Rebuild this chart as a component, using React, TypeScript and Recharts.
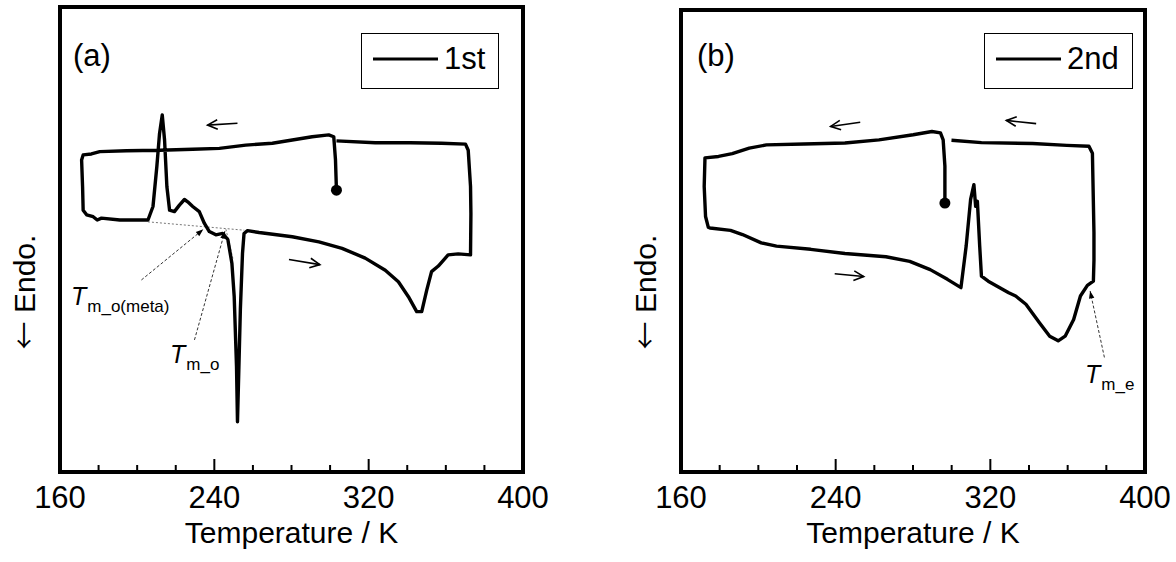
import React from "react";
import {
  LineChart,
  Line,
  XAxis,
  YAxis,
  ReferenceArea,
  ReferenceLine,
  ReferenceDot,
  Legend,
} from "recharts";

const FONT = '"Liberation Sans", Arial, Helvetica, sans-serif';

// (a) 1st run: temperature (K) and DSC signal (arb. units), in scan order
const tempFirst = [
  303.3, 302.8, 301.9, 299.3, 290.7, 280.4, 270.1, 256.3, 242.6, 228.8, 211.6, 194.4, 180.6,
  176.3, 172.0, 171.2, 171.7, 172.0, 173.8, 177.2, 179.3, 181.5, 191.0, 205.6, 208.2, 210.2,
  211.6, 213.0, 214.2, 215.4, 216.8, 219.3, 221.9, 224.5, 226.2, 228.8, 232.2, 234.8, 237.4,
  240.8, 244.3, 247.0, 249.1, 250.3, 251.5, 252.0, 252.7, 253.5, 254.6, 255.4, 257.2, 263.2,
  280.4, 294.2, 306.2, 318.2, 328.6, 335.4, 340.6, 344.9, 347.5, 350.1, 352.6, 356.1, 361.2,
  366.4, 372.8, 373.0, 372.8, 371.6, 370.2, 357.8, 341.5, 323.4, 303.3,
];
const heatFirst = [
  60.6, 67.1, 72.1, 72.5, 72.1, 71.4, 70.7, 70.3, 69.6, 69.4, 69.2, 69.1, 68.9,
  68.4, 68.2, 67.1, 61.4, 56.3, 55.3, 54.9, 54.2, 54.6, 54.2, 54.2, 57.1, 65.7,
  72.8, 76.8, 71.4, 61.4, 56.3, 56.0, 57.4, 58.6, 58.1, 57.1, 56.0, 53.5, 51.7,
  51.0, 51.3, 50.0, 44.9, 37.7, 22.6, 10.8, 22.0, 35.0, 47.0, 51.3, 51.9, 51.5,
  50.6, 49.5, 48.1, 46.0, 43.4, 40.9, 37.7, 34.5, 34.5, 39.1, 43.1, 44.3, 46.7,
  46.9, 46.7, 55.6, 61.4, 69.2, 70.5, 70.7, 70.8, 70.8, 71.2,
];

// (b) 2nd run
const tempSecond = [
  296.5, 296.5, 295.6, 294.2, 289.8, 280.1, 262.4, 244.8, 223.6, 204.2, 195.3, 186.5, 179.4,
  172.4, 172.0, 172.7, 174.1, 175.0, 185.6, 191.8, 201.5, 209.4, 227.1, 244.8, 266.0, 278.3,
  288.9, 297.8, 304.8, 307.5, 309.8, 311.5, 312.4, 313.3, 314.5, 315.4, 318.9, 329.5, 333.1,
  338.4, 345.4, 350.7, 355.1, 358.7, 363.1, 366.6, 370.2, 373.3, 373.6, 373.6, 372.8, 371.0,
  359.6, 341.9, 315.4, 299.9,
];
const heatSecond = [
  58.2, 66.2, 71.9, 73.4, 73.7, 73.0, 71.9, 71.2, 71.0, 70.8, 70.1, 68.9, 68.3,
  68.0, 61.8, 55.3, 53.0, 52.8, 52.3, 51.4, 49.6, 48.9, 48.2, 47.3, 46.6, 45.6,
  43.8, 41.7, 39.9, 48.9, 59.0, 62.2, 57.5, 58.6, 48.9, 42.4, 41.3, 38.8, 38.1,
  36.3, 32.3, 29.4, 28.4, 29.4, 33.0, 38.1, 40.4, 41.3, 45.8, 51.8, 69.0, 70.5,
  70.7, 71.1, 71.3, 71.8,
];

const tempTicks = [160, 180, 200, 220, 240, 260, 280, 300, 320, 340, 360, 380, 400];
const labelledTemps = [160, 240, 320, 400];

// scan direction arrows, [from, to] as [T, signal]
const scanArrowsFirst = [
  [[252.0, 75.0], [236.5, 74.6]],
  [[278.7, 45.7], [294.7, 44.6]],
];
const scanArrowsSecond = [
  [[252.7, 75.7], [237.4, 74.8]],
  [[343.7, 75.4], [328.3, 76.1]],
  [[239.5, 42.9], [254.5, 42.3]],
];
// onset pointers and construction lines
const pointersFirst = [
  [[202.2, 41.3], [234.3, 52.2]],
  [[229.7, 28.4], [245.5, 51.8]],
];
const pointersSecond = [[[379.0, 24.8], [371.6, 39.2]]];
const guidesFirst = [
  [[205.6, 53.8], [255.5, 52.0]],
  [[246.0, 52.2], [249.8, 45.6]],
];

const toRows = (t: number[], v: number[]) => t.map((T, i) => ({ T, v: v[i] }));

function BottomTick(props: any) {
  const { x, y, payload } = props;
  const major = labelledTemps.includes(payload.value);
  return (
    <g>
      <line x1={x} x2={x} y1={y} y2={y - (major ? 13 : 7)} stroke="#000" strokeWidth={2} />
      {major && (
        <text x={x} y={y + 36} textAnchor="middle" fontSize={31} fontFamily={FONT} fill="#000">
          {payload.value}
        </text>
      )}
    </g>
  );
}

function TopTick(props: any) {
  const { x, y, payload } = props;
  const major = labelledTemps.includes(payload.value);
  return <line x1={x} x2={x} y1={y} y2={y + (major ? 13 : 8)} stroke="#000" strokeWidth={2} />;
}

function headPoints(x1: number, y1: number, x2: number, y2: number, len: number, spread: number) {
  const a = Math.atan2(y2 - y1, x2 - x1);
  const l = [x2 - len * Math.cos(a - spread), y2 - len * Math.sin(a - spread)];
  const r = [x2 - len * Math.cos(a + spread), y2 - len * Math.sin(a + spread)];
  return { l, r };
}

const openArrow = (p: any) => {
  const { x1, y1, x2, y2 } = p;
  const { l, r } = headPoints(x1, y1, x2, y2, 11, 0.45);
  return (
    <g stroke="#000" strokeWidth={1.6} fill="none">
      <line x1={x1} y1={y1} x2={x2} y2={y2} />
      <polyline points={`${l[0]},${l[1]} ${x2},${y2} ${r[0]},${r[1]}`} />
    </g>
  );
};

const pointerArrow = (p: any) => {
  const { x1, y1, x2, y2 } = p;
  const { l, r } = headPoints(x1, y1, x2, y2, 8, 0.35);
  return (
    <g>
      <line x1={x1} y1={y1} x2={x2} y2={y2} stroke="#333" strokeWidth={1} strokeDasharray="3 2" />
      <polygon points={`${l[0]},${l[1]} ${x2},${y2} ${r[0]},${r[1]}`} fill="#000" />
    </g>
  );
};

function LegendBox(props: any) {
  const item = props.payload && props.payload[0];
  return (
    <div
      style={{
        width: props.boxWidth,
        height: 56,
        border: "1.5px solid #000",
        boxSizing: "border-box",
        background: "#fff",
        position: "relative",
        fontFamily: FONT,
      }}
    >
      <svg width={80} height={56} style={{ position: "absolute", left: 0, top: 0 }}>
        <line x1={11} x2={76} y1={25} y2={25} stroke="#000" strokeWidth={3} />
      </svg>
      <span style={{ position: "absolute", left: 82, top: 8, fontSize: 31, lineHeight: "34px", color: "#000" }}>
        {item ? item.value : ""}
      </span>
    </div>
  );
}

type PanelProps = {
  rows: { T: number; v: number }[];
  name: string;
  left: number;
  margin: { top: number; right: number; bottom: number; left: number };
  axisHeight: number;
  legendPos: { left: number; top: number; width: number };
  scanArrows: number[][][];
  pointers: number[][][];
  guides: number[][][];
};

function Panel({ rows, name, left, margin, axisHeight, legendPos, scanArrows, pointers, guides }: PanelProps) {
  const seg = (s: number[][]) => [
    { x: s[0][0], y: s[0][1] },
    { x: s[1][0], y: s[1][1] },
  ];
  return (
    <div style={{ position: "absolute", left, top: 0 }}>
      <LineChart width={588} height={562} data={rows} margin={margin}>
        <XAxis
          dataKey="T"
          type="number"
          domain={[160, 400]}
          ticks={tempTicks}
          interval={0}
          tickSize={0}
          tickMargin={0}
          axisLine={false}
          tickLine={false}
          tick={<BottomTick />}
          height={axisHeight}
          label={{
            value: "Temperature / K",
            position: "insideBottom",
            offset: 19,
            style: { fontSize: 30, fontFamily: FONT, fill: "#000" },
          }}
        />
        <XAxis
          xAxisId="top"
          orientation="top"
          dataKey="T"
          type="number"
          domain={[160, 400]}
          ticks={tempTicks}
          interval={0}
          tickSize={0}
          tickMargin={0}
          axisLine={false}
          tickLine={false}
          tick={<TopTick />}
          height={0}
        />
        <YAxis hide type="number" domain={[0, 100]} />
        <ReferenceArea
          x1={160}
          x2={400}
          y1={0}
          y2={100}
          fill="none"
          stroke="#000"
          strokeWidth={4}
          ifOverflow="visible"
        />
        {guides.map((g, i) => (
          <ReferenceLine
            key={"g" + i}
            segment={seg(g)}
            stroke="#777"
            strokeWidth={1}
            strokeDasharray="2 2"
          />
        ))}
        <Line
          dataKey="v"
          name={name}
          type="linear"
          stroke="#000"
          strokeWidth={3.4}
          strokeLinejoin="round"
          dot={false}
          activeDot={false}
          isAnimationActive={false}
        />
        <ReferenceDot x={rows[0].T} y={rows[0].v} r={5.5} fill="#000" stroke="none" />
        {scanArrows.map((a, i) => (
          <ReferenceLine key={"s" + i} segment={seg(a)} shape={openArrow} />
        ))}
        {pointers.map((a, i) => (
          <ReferenceLine key={"p" + i} segment={seg(a)} shape={pointerArrow} />
        ))}
        <Legend
          layout="horizontal"
          verticalAlign="middle"
          align="center"
          content={<LegendBox boxWidth={legendPos.width} />}
          wrapperStyle={{ left: legendPos.left, top: legendPos.top, width: legendPos.width, height: 56 }}
        />
      </LineChart>
    </div>
  );
}

export default function App() {
  const rowsFirst = toRows(tempFirst, heatFirst);
  const rowsSecond = toRows(tempSecond, heatSecond);
  return (
    <div style={{ position: "absolute", left: 0, top: 0, width: 1176, height: 562, background: "#fff" }}>
      <Panel
        rows={rowsFirst}
        name="1st"
        left={0}
        margin={{ top: 7, right: 65, bottom: 0, left: 60 }}
        axisHeight={90}
        legendPos={{ left: 361, top: 33, width: 138 }}
        scanArrows={scanArrowsFirst}
        pointers={pointersFirst}
        guides={guidesFirst}
      />
      <Panel
        rows={rowsSecond}
        name="2nd"
        left={588}
        margin={{ top: 10, right: 31, bottom: 0, left: 93 }}
        axisHeight={90}
        legendPos={{ left: 396, top: 33, width: 149 }}
        scanArrows={scanArrowsSecond}
        pointers={pointersSecond}
        guides={[]}
      />
      <svg
        width={1176}
        height={562}
        style={{ position: "absolute", left: 0, top: 0, pointerEvents: "none" }}
        fontFamily={FONT}
        fill="#000"
      >
        <text x={73} y={66} fontSize={31}>(a)</text>
        <text x={697} y={66} fontSize={31}>(b)</text>
        <text transform="translate(35,292) rotate(-90)" textAnchor="middle" fontSize={30}>
          <tspan fontFamily='"Noto Sans CJK JP"' fontSize={28}>←</tspan> Endo.
        </text>
        <text transform="translate(656,292) rotate(-90)" textAnchor="middle" fontSize={30}>
          <tspan fontFamily='"Noto Sans CJK JP"' fontSize={28}>←</tspan> Endo.
        </text>
        <text x={71} y={305}>
          <tspan fontStyle="italic" fontSize={25}>T</tspan>
          <tspan fontSize={17} dy={7} dx={1}>m_o(meta)</tspan>
        </text>
        <text x={170} y={363}>
          <tspan fontStyle="italic" fontSize={25}>T</tspan>
          <tspan fontSize={17} dy={7} dx={1}>m_o</tspan>
        </text>
        <text x={1085} y={383}>
          <tspan fontStyle="italic" fontSize={25}>T</tspan>
          <tspan fontSize={17} dy={7} dx={1}>m_e</tspan>
        </text>
      </svg>
    </div>
  );
}
